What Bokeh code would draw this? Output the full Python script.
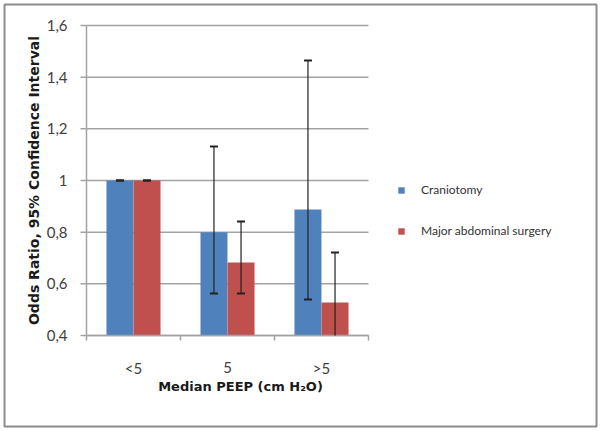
import math
from bokeh.plotting import figure
from bokeh.models import Range1d, Legend, LegendItem
from bokeh.core.properties import value
from bokeh.embed import file_html
from bokeh.resources import INLINE

# ---- data ----
categories = ["<5", "5", ">5"]
series_names = ["Craniotomy", "Major abdominal surgery"]
cran_or = [1.0, 0.80, 0.888]
cran_lo = [1.0, 0.563, 0.539]
cran_hi = [1.0, 1.132, 1.465]
abd_or = [1.0, 0.683, 0.528]
abd_lo = [1.0, 0.563, 0.386]
abd_hi = [1.0, 0.841, 0.721]
y_ticks = [0.4, 0.6, 0.8, 1.0, 1.2, 1.4, 1.6]
y_tick_labels = ["0,4", "0,6", "0,8", "1", "1,2", "1,4", "1,6"]
x_title = "Median PEEP (cm H\u2082O)"
y_title = "Odds Ratio, 95% Confidence Interval"

BLUE = "#4F81BD"
RED = "#C0504D"
GRID = "#a3a3a3"
INK = "#1a1a1a"

# ---- layout (pixels) ----
W, H = 600, 430
PAD = 4                      # chart border inset
PL, PR, PT, PB = 86, 368, 25, 335   # plot area in page pixels
Y0, Y1 = 0.4, 1.6
NC = len(categories)
PXX = (PR - PL) / NC         # px per x unit
PXY = (PB - PT) / (Y1 - Y0)  # px per y unit

x_start = -(PL - PAD) / PXX
x_end = NC + (W - PAD - PR) / PXX
y_end = Y1 + (PT - PAD) / PXY
y_start = Y0 - (H - PAD - PB) / PXY

p = figure(width=W, height=H, output_backend="svg", toolbar_location=None,
           x_range=Range1d(x_start, x_end), y_range=Range1d(y_start, y_end),
           x_axis_type=None, y_axis_type=None,
           min_border_left=PAD, min_border_right=PAD, min_border_top=PAD,
           min_border_bottom=PAD,
           outline_line_color="#8c8c8c", outline_line_width=2,
           background_fill_color="white", border_fill_color="white")
p.grid.visible = False

# ---- gridlines & axes ----
p.segment(x0=[0] * len(y_ticks), y0=y_ticks, x1=[NC] * len(y_ticks), y1=y_ticks,
          line_color=GRID, line_width=1.5)
ytick_len = 6 / PXX
p.segment(x0=[0] * len(y_ticks), y0=y_ticks, x1=[-ytick_len] * len(y_ticks),
          y1=y_ticks, line_color=GRID, line_width=1.5)
p.segment(x0=[0], y0=[Y0], x1=[0], y1=[Y1], line_color=GRID, line_width=1.5)
xb_ticks = list(range(NC + 1))
xtick_len = 5 / PXY
p.segment(x0=xb_ticks, y0=[Y0] * len(xb_ticks), x1=xb_ticks,
          y1=[Y0 - xtick_len] * len(xb_ticks), line_color=GRID, line_width=1.5)

# ---- bars ----
centers = [i + 0.5 for i in range(NC)]
off = 0.144
bw = 0.287
xb = [c - off for c in centers]
xr = [c + off for c in centers]
rb = p.vbar(x=xb, top=cran_or, bottom=Y0, width=bw, fill_color=BLUE, line_color=None)
rr = p.vbar(x=xr, top=abd_or, bottom=Y0, width=bw, fill_color=RED, line_color=None)

# x axis line on top of bars
p.segment(x0=[0], y0=[Y0], x1=[NC], y1=[Y0], line_color=GRID, line_width=1.5)

# ---- error bars (clipped at axis) ----
ex = xb + xr
elo = [max(v, Y0) for v in cran_lo + abd_lo]
ehi = cran_hi + abd_hi
p.segment(x0=ex, y0=elo, x1=ex, y1=ehi, line_color="#222222", line_width=1.2)
cap_x = [x for x, lo in zip(ex, cran_lo + abd_lo) if lo >= Y0]
cap_y = [lo for lo in cran_lo + abd_lo if lo >= Y0]
p.scatter(x=ex + cap_x, y=ehi + cap_y, marker="dash", size=8,
          line_color="#222222", line_width=2)

# ---- tick labels ----
p.text(x=[0] * len(y_ticks), y=y_ticks, text=y_tick_labels, x_offset=-19,
       text_align="right", text_baseline="middle", text_font=value("Lato"),
       text_font_size=value("15px"), text_color="#404040")
p.text(x=centers, y=[Y0] * NC, text=categories, y_offset=32,
       text_align="center", text_baseline="middle", text_font=value("Lato"),
       text_font_size=value("15px"), text_color="#404040")

# ---- axis titles ----
p.text(x=[(240 - PL) / PXX], y=[Y0], text=[x_title], y_offset=51,
       text_align="center", text_baseline="middle",
       text_font=value("DejaVu Sans"), text_font_style="bold",
       text_font_size=value("13px"), text_color=INK)
p.text(x=[-(PL - 33) / PXX], y=[(Y0 + Y1) / 2], text=[y_title],
       angle=math.pi / 2, text_align="center", text_baseline="middle",
       text_font=value("DejaVu Sans"), text_font_style="bold",
       text_font_size=value("14px"), text_color=INK)

# ---- legend ----
leg = Legend(items=[LegendItem(label=series_names[0], renderers=[rb]),
                    LegendItem(label=series_names[1], renderers=[rr])],
             location=(397 - PAD, H - PAD - 238), orientation="vertical",
             glyph_width=8, glyph_height=8, label_height=11, label_width=10,
             spacing=26, label_standoff=16, padding=0, margin=0,
             border_line_color=None, background_fill_color=None,
             label_text_font="Lato", label_text_font_size="12px",
             label_text_color="#333333")
p.add_layout(leg, "center")

open("out.html", "w").write(file_html(p, INLINE))
